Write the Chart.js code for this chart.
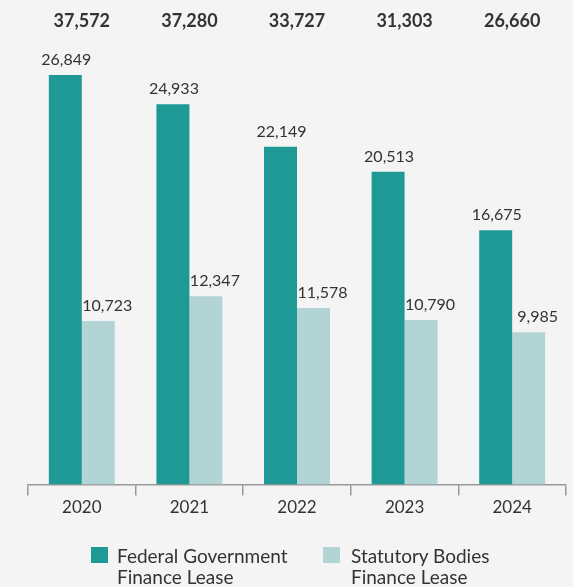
<!DOCTYPE html>
<html>
<head>
<meta charset="utf-8">
<script src="https://cdn.jsdelivr.net/npm/chart.js@4.4.1/dist/chart.umd.min.js"></script>
<style>
  html, body { margin: 0; padding: 0; background: #f4f4f4; }
  #wrap { position: relative; width: 573px; height: 587px; overflow: hidden; background: #f4f4f4; }
  #c { position: absolute; left: 0; top: 0; }
  .lg { position: absolute; font-family: Lato, "Open Sans", sans-serif; font-size: 19px; line-height: 21px; color: #333; white-space: nowrap; }
  .sw { position: absolute; width: 17px; height: 16px; }
</style>
</head>
<body>
<div id="wrap">
  <canvas id="c" width="573" height="587"></canvas>
  <div class="sw" style="left:91px; top:547px; background:#1e9996;"></div>
  <div class="lg" style="left:117px; top:545px;">Federal Government<br>Finance Lease</div>
  <div class="sw" style="left:323px; top:547px; background:#b3d4d5;"></div>
  <div class="lg" style="left:351px; top:545px;">Statutory Bodies<br>Finance Lease</div>
</div>
<script>
const categories = ["2020", "2021", "2022", "2023", "2024"];
const federalGovernment = [26849, 24933, 22149, 20513, 16675];
const statutoryBodies = [10723, 12347, 11578, 10790, 9985];
const seriesNames = ["Federal Government Finance Lease", "Statutory Bodies Finance Lease"];

const fmt = v => v.toLocaleString("en-US");

const labelsPlugin = {
  id: "labelsPlugin",
  afterDatasetsDraw(chart) {
    const ctx = chart.ctx;
    ctx.save();
    ctx.fillStyle = "#333";
    ctx.textAlign = "center";
    ctx.textBaseline = "alphabetic";
    ctx.font = "16px Lato, 'Open Sans', sans-serif";
    chart.data.datasets.forEach((ds, di) => {
      const meta = chart.getDatasetMeta(di);
      meta.data.forEach((bar, i) => {
        const dx = di === 1 ? 9 : 1;
        ctx.fillText(fmt(ds.data[i]), bar.x + dx, bar.y - 10);
      });
    });
    // totals
    ctx.font = "bold 18px Lato, 'Open Sans', sans-serif";
    const xs = chart.scales.x;
    categories.forEach((c, i) => {
      const total = chart.data.datasets.reduce((s, ds) => s + ds.data[i], 0);
      ctx.fillText(fmt(total), xs.getPixelForValue(i), 27);
    });
    ctx.restore();
  }
};

new Chart(document.getElementById("c"), {
  type: "bar",
  data: {
    labels: categories,
    datasets: [
      { label: seriesNames[0], data: federalGovernment, backgroundColor: "#1e9996", categoryPercentage: 0.613, barPercentage: 1.0 },
      { label: seriesNames[1], data: statutoryBodies, backgroundColor: "#b3d4d5", categoryPercentage: 0.613, barPercentage: 1.0 }
    ]
  },
  options: {
    responsive: false,
    animation: false,
    layout: { padding: { left: 28, right: 7, top: 27, bottom: 67 } },
    plugins: { legend: { display: false }, tooltip: { enabled: false } },
    scales: {
      x: {
        offset: true,
        grid: { display: true, offset: true, drawOnChartArea: false, drawTicks: true, tickLength: 11, color: "#9a9a9a", lineWidth: 1.5 },
        border: { display: true, color: "#9a9a9a", width: 1.5 },
        ticks: { color: "#333", font: { family: "Lato, 'Open Sans', sans-serif", size: 17 }, padding: 2 }
      },
      y: { display: false, min: 0, max: 30000 }
    }
  },
  plugins: [labelsPlugin]
});
</script>
</body>
</html>
